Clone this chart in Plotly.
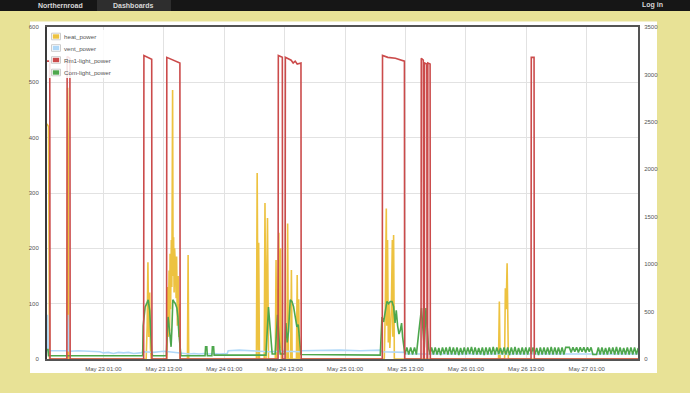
import pandas as pd
import plotly.graph_objects as go

BASE = pd.Timestamp("2014-05-22 00:00")

# ---- data: (hours after May 22 00:00, value) ----
heat_points = [
    (13.8, 425), (14.1, 420), (14.3, 0),
    (17.8, 0), (17.9, 490), (18.0, 400), (18.1, 0),
    (33.5, 0), (33.7, 60), (33.85, 175), (34.0, 40), (34.2, 120), (34.35, 20), (34.5, 0),
    (37.6, 0), (37.8, 130), (37.9, 40), (38.05, 160), (38.15, 50), (38.25, 190), (38.35, 90),
    (38.5, 215), (38.6, 130), (38.75, 486), (38.85, 150), (38.95, 220), (39.05, 120),
    (39.15, 200), (39.3, 170), (39.45, 110), (39.55, 185), (39.7, 60), (39.85, 150),
    (40.0, 40), (40.1, 100), (40.25, 0),
    (41.7, 0), (41.83, 188), (41.95, 0),
    (55.4, 0), (55.55, 336), (55.75, 0), (55.85, 210), (56.0, 0),
    (56.95, 0), (57.1, 282), (57.3, 0), (57.6, 255), (57.8, 0),
    (59.15, 0), (59.3, 179), (59.45, 0), (59.85, 228), (60.0, 20), (60.2, 200), (60.35, 0),
    (61.45, 0), (61.6, 245), (61.75, 0),
    (62.2, 0), (62.35, 161), (62.5, 0),
    (63.35, 0), (63.5, 152), (63.65, 0), (63.8, 108), (63.95, 0),
    (80.8, 0), (81.0, 90), (81.2, 272), (81.3, 60), (81.45, 215), (81.6, 30), (81.75, 100),
    (81.9, 20), (82.2, 90), (82.4, 215), (82.5, 40), (82.65, 224), (82.8, 0),
    (103.5, 0), (103.66, 104), (103.8, 0), (104.7, 0), (104.85, 128), (105.0, 90),
    (105.2, 173), (105.35, 60), (105.45, 0),
    (131.2, 0),
]

vent_points = [
    (13.8, 14), (13.9, 80), (14.05, 14), (14.3, 15), (17.8, 15), (17.95, 80), (18.1, 15),
    (18.4, 14), (20.0, 15), (22.0, 14), (24.3, 13), (25.0, 11), (26.0, 12), (27.0, 10),
    (28.0, 12), (29.0, 11), (30.0, 12), (31.0, 10), (32.3, 11), (33.0, 13), (35.0, 12),
    (36.0, 13), (37.0, 14), (38.0, 13), (39.0, 12), (40.8, 10), (42.0, 9), (43.0, 10),
    (44.0, 9), (45.0, 10), (46.0, 9), (47.0, 10), (48.0, 9), (49.6, 10), (49.8, 15),
    (52.0, 16), (55.0, 15), (58.0, 13), (61.0, 14), (64.1, 13), (64.3, 15), (68.0, 16),
    (72.0, 16), (76.0, 15), (80.0, 16), (80.3, 13), (84.8, 12), (85.2, 9), (95.0, 9),
    (105.0, 9), (115.0, 9), (125.0, 9), (131.2, 9),
]

rm1_points = [
    (13.8, 3140), (14.35, 3140), (14.4, 0),
    (17.75, 0), (17.8, 3190), (18.35, 3170), (18.4, 0),
    (33.0, 0), (33.05, 3200), (33.4, 3190), (34.6, 3160), (34.65, 0),
    (37.55, 0), (37.6, 3180), (38.5, 3160), (40.2, 3120), (40.25, 0),
    (59.7, 0), (59.75, 3200), (60.55, 3180), (60.6, 0),
    (61.1, 0), (61.15, 3180), (61.8, 3160), (62.3, 3150), (62.7, 3120), (63.1, 3140),
    (63.5, 3110), (64.25, 3120), (64.3, 0),
    (80.4, 0), (80.45, 3200), (81.5, 3180), (83.0, 3170), (84.8, 3140), (84.85, 0),
    (88.1, 0), (88.15, 3170), (88.55, 3150), (88.6, 0), (88.75, 0), (88.8, 3120),
    (89.25, 3110), (89.3, 0), (89.4, 0), (89.45, 3120), (89.9, 3110), (89.95, 0),
    (109.95, 0), (110.0, 3180), (110.55, 3180), (110.6, 0),
    (131.2, 0),
]

com_points = [
    (13.8, 17), (14.0, 17), (14.1, 6), (32.8, 6), (32.9, 60), (33.1, 76), (33.3, 94),
    (33.6, 100), (33.9, 107), (34.2, 88), (34.4, 58), (34.6, 10), (34.8, 6),
    (37.5, 6), (37.7, 52), (37.85, 76), (38.0, 64), (38.2, 40), (38.45, 22), (38.6, 52),
    (38.8, 107), (39.0, 104), (39.3, 100), (39.6, 92), (39.8, 76), (40.0, 46), (40.2, 18),
    (40.4, 6), (45.2, 6), (45.3, 22), (45.55, 22), (45.65, 6), (46.55, 6), (46.65, 22),
    (46.9, 22), (47.0, 7), (57.3, 7), (57.48, 50), (57.8, 94), (58.0, 70), (58.27, 30),
    (58.53, 9), (59.13, 9), (59.33, 52), (59.6, 80), (59.87, 40), (60.12, 9), (60.98, 9),
    (61.26, 65), (61.51, 30), (61.78, 50), (62.11, 107), (62.45, 104), (62.77, 95),
    (63.1, 76), (63.44, 58), (63.7, 62), (63.96, 40), (64.24, 8), (80.0, 7), (80.14, 40),
    (80.34, 76), (80.66, 67), (80.99, 85), (81.33, 104), (81.66, 100), (82.0, 104),
    (82.33, 104), (82.65, 95), (82.93, 65), (83.18, 88), (83.45, 60), (83.72, 45),
    (83.98, 52), (84.24, 65), (84.44, 40), (84.64, 22), (84.9, 8), (85.28, 21), (85.66, 8),
    (86.04, 21), (86.42, 8), (86.8, 21), (87.18, 8), (87.62, 46), (87.95, 70), (88.2, 92),
    (88.49, 52), (88.75, 20), (89.08, 92), (89.35, 55), (89.6, 20), (89.88, 8),
]
# regular on/off cycling after May 25 18:00
com_cycle_start = 90.2
com_cycle_step = 0.36
com_cycle_values = [
    21, 8, 21, 8, 20, 7, 21, 9, 21, 8, 22, 8, 21, 8, 21, 7, 20, 8, 21, 8,
    21, 9, 22, 8, 21, 8, 20, 8, 21, 7, 21, 8, 21, 8, 22, 8, 21, 9, 20, 8,
    21, 8, 21, 7, 21, 8, 22, 8, 20, 8, 21, 8, 21, 8, 21, 9, 21, 8, 20, 7,
    21, 8, 21, 8, 21, 8, 22, 8, 21, 8, 21, 8, 21, 8, 21, 21, 21, 12, 21, 13,
    21, 12, 21, 13, 21, 12, 21, 13, 21, 8, 8, 8, 21, 8, 21, 8, 20, 8, 21, 9,
    21, 8, 22, 8, 21, 8, 20, 8, 21, 8, 21, 8, 21, 8, 20,
]

series_names = ["heat_power", "vent_power", "Rm1-light_power", "Com-light_power"]
series_colors = ["#edc240", "#afd8f8", "#cb4b4b", "#4da74d"]

nav_labels = ["Northernroad", "Dashboards", "Log in"]

x_start_h, x_end_h = 13.8, 131.2
tick_start = "2014-05-23 01:00"

# ---- build ----
def to_time(hours):
    return [BASE + pd.Timedelta(hours=h) for h in hours]

def unzip(points):
    return [p[0] for p in points], [p[1] for p in points]

heat_h, heat_v = unzip(heat_points)
vent_h, vent_v = unzip(vent_points)
rm1_h, rm1_v = unzip(rm1_points)
com_h, com_v = unzip(com_points)
com_h = com_h + [com_cycle_start + i * com_cycle_step for i in range(len(com_cycle_values))]
com_v = com_v + com_cycle_values

W, H = 690, 393
ML, MR, MT, MB = 47, 52, 27, 34
PW, PH = W - ML - MR, H - MT - MB

def px(x):
    return (x - ML) / PW

def py(y):
    return (H - MB - y) / PH

FONT = "Liberation Sans, Arial, sans-serif"
LW = 1.6
PAGE_BG = "#e8e296"

fig = go.Figure()
fig.add_trace(go.Scatter(x=to_time(heat_h), y=heat_v, mode="lines", name=series_names[0],
                         line=dict(color=series_colors[0], width=LW), yaxis="y"))
fig.add_trace(go.Scatter(x=to_time(vent_h), y=vent_v, mode="lines", name=series_names[1],
                         line=dict(color=series_colors[1], width=LW), yaxis="y"))
fig.add_trace(go.Scatter(x=to_time(rm1_h), y=rm1_v, mode="lines", name=series_names[2],
                         line=dict(color=series_colors[2], width=LW), yaxis="y2"))
fig.add_trace(go.Scatter(x=to_time(com_h), y=com_v, mode="lines", name=series_names[3],
                         line=dict(color=series_colors[3], width=LW), yaxis="y"))

tickfont = dict(family=FONT, size=6, color="#545454")

shapes = [
    # page chrome
    dict(type="rect", xref="paper", yref="paper", x0=px(0), x1=px(W), y0=py(0), y1=py(11),
         fillcolor="#161616", line=dict(width=0), layer="below"),
    dict(type="rect", xref="paper", yref="paper", x0=px(97), x1=px(171), y0=py(0), y1=py(11),
         fillcolor="#2e2e2e", line=dict(width=0), layer="below"),
    dict(type="rect", xref="paper", yref="paper", x0=px(30), x1=px(657), y0=py(21.5), y1=py(373),
         fillcolor="#ffffff", line=dict(width=0), layer="below"),
    # legend background
    dict(type="rect", xref="paper", yref="paper", x0=px(49), x1=px(113), y0=py(30), y1=py(78),
         fillcolor="rgba(255,255,255,0.85)", line=dict(width=0), layer="above"),
]
annotations = []
for label, xl in zip(nav_labels, [37, 112, 641]):
    annotations.append(dict(text="<b>" + label + "</b>", xref="paper", yref="paper",
                            x=px(xl), y=py(5.2), xanchor="left", yanchor="middle",
                            showarrow=False, borderpad=0,
                            font=dict(family=FONT, size=7, color="#d8d8d8")))
legend_rows = [36.5, 48, 60, 72.5]
for name, color, yc in zip(series_names, series_colors, legend_rows):
    shapes.append(dict(type="rect", xref="paper", yref="paper", x0=px(51.5), x1=px(60.5),
                       y0=py(yc + 3.3), y1=py(yc - 3.3), fillcolor="#ffffff",
                       line=dict(color="#cccccc", width=1), layer="above"))
    shapes.append(dict(type="rect", xref="paper", yref="paper", x0=px(52.8), x1=px(59.2),
                       y0=py(yc + 2.2), y1=py(yc - 2.2), fillcolor=color,
                       line=dict(width=0), layer="above"))
    annotations.append(dict(text=name, xref="paper", yref="paper", x=px(62), y=py(yc),
                            xanchor="left", yanchor="middle", showarrow=False,
                            font=dict(family=FONT, size=6.2, color="#545454")))

fig.update_layout(
    width=W, height=H,
    margin=dict(l=ML, r=MR, t=MT, b=MB, pad=0),
    paper_bgcolor=PAGE_BG,
    plot_bgcolor="rgba(0,0,0,0)",
    showlegend=False,
    shapes=shapes,
    annotations=annotations,
    xaxis=dict(
        type="date",
        range=[BASE + pd.Timedelta(hours=x_start_h), BASE + pd.Timedelta(hours=x_end_h)],
        tick0=tick_start, dtick=12 * 3600 * 1000, tickformat="%b %d %H:%M",
        showgrid=True, gridcolor="#e2e2e2", gridwidth=1,
        showline=True, linecolor="#545454", linewidth=2, mirror=True,
        ticks="outside", ticklen=3, tickcolor="rgba(0,0,0,0)",
        tickfont=tickfont, zeroline=False,
    ),
    yaxis=dict(
        range=[0, 600], dtick=100, showgrid=True, gridcolor="#e2e2e2", gridwidth=1,
        showline=True, linecolor="#3a3a3a", linewidth=2, zeroline=False,
        ticks="outside", ticklen=5, tickcolor="rgba(0,0,0,0)", tickfont=tickfont,
    ),
    yaxis2=dict(
        range=[0, 3500], dtick=500, overlaying="y", side="right", showgrid=False,
        showline=True, linecolor="#545454", linewidth=2, zeroline=False,
        ticks="outside", ticklen=3, tickcolor="rgba(0,0,0,0)", tickfont=tickfont,
    ),
)

fig.write_html(
    "out.html",
    config={"displayModeBar": False},
    post_script="document.body.style.margin='0';document.body.style.background='" + PAGE_BG + "';",
)
